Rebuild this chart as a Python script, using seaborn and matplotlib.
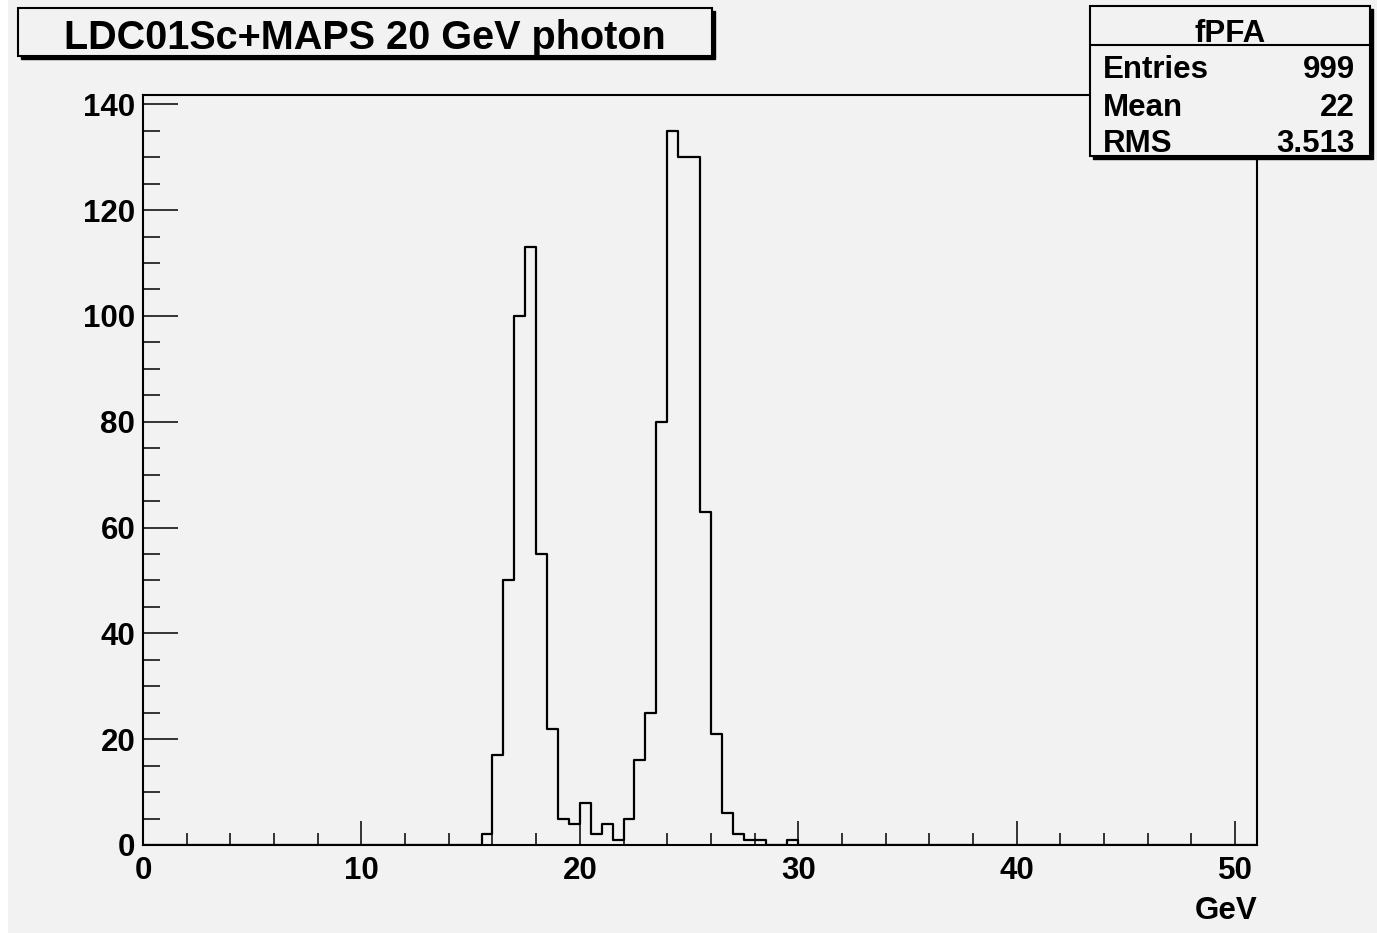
import numpy as np
import pandas as pd
import matplotlib
matplotlib.use("Agg")
import matplotlib.pyplot as plt
from matplotlib.patches import Rectangle
import seaborn as sns

# Histogram definition: 102 bins of 0.5 GeV between 0 and 51 GeV
x_min, x_max, bin_width = 0.0, 51.0, 0.5
# Counts for the occupied bins, starting at the bin whose low edge is 15.5 GeV
first_low_edge = 15.5
counts_occupied = [2, 17, 50, 100, 113, 55, 22, 5, 4, 8, 2, 4, 1, 5, 16,
                   25, 80, 135, 130, 130, 63, 21, 6, 2, 1, 1, 0, 0, 1]

title_text = "LDC01Sc+MAPS 20 GeV photon"
stats_name = "fPFA"
stats_labels = ["Entries", "Mean", "RMS"]
stats_values = ["999", "22", "3.513"]
x_label = "GeV"

n_bins = int(round((x_max - x_min) / bin_width))
edges = np.linspace(x_min, x_max, n_bins + 1)
centers = edges[:-1] + bin_width / 2
counts = np.zeros(n_bins)
start = int(round((first_low_edge - x_min) / bin_width))
counts[start:start + len(counts_occupied)] = counts_occupied
hist_df = pd.DataFrame({"energy": centers, "entries": counts})

W, H = 1377, 933
canvas_grey = "#f2f2f2"

sns.set_theme(style="ticks")
plt.rcParams["font.family"] = ["Liberation Sans", "DejaVu Sans"]
plt.rcParams["font.weight"] = "bold"
plt.rcParams["text.color"] = "black"
plt.rcParams["axes.labelcolor"] = "black"
plt.rcParams["xtick.color"] = "black"
plt.rcParams["ytick.color"] = "black"

fig = plt.figure(figsize=(W / 100, H / 100), dpi=100)
fig.patch.set_facecolor("white")


def fx(px):
    return px / W


def fy(py):
    return 1 - py / H


# canvas fill
fig.add_artist(Rectangle((fx(8), 0), 1 - fx(8), 1, transform=fig.transFigure,
                         facecolor=canvas_grey, edgecolor="none", zorder=-10))

ax_l, ax_r, ax_t, ax_b = 143, 1257, 95, 845
ax = fig.add_axes([fx(ax_l), fy(ax_b), fx(ax_r - ax_l), (ax_b - ax_t) / H])
ax.set_facecolor(canvas_grey)

sns.histplot(data=hist_df, x="energy", weights="entries", bins=n_bins,
             binrange=(x_min, x_max), element="step", fill=False,
             color="black", linewidth=1.6, ax=ax)

y_top = 1.05 * max(counts_occupied)
ax.set_xlim(x_min, x_max)
ax.set_ylim(0, y_top)
ax.set_xticks(np.arange(0, 51, 10))
ax.set_xticks(np.arange(0, 51, 2), minor=True)
ax.set_yticks(np.arange(0, 141, 20))
ax.set_yticks(np.arange(0, 141, 5), minor=True)

for side in ["top", "right", "bottom", "left"]:
    ax.spines[side].set_visible(True)
    ax.spines[side].set_linewidth(1.5)
    ax.spines[side].set_color("black")

ax.tick_params(axis="x", which="major", direction="in", length=17.3, width=1.1,
               pad=8.0, labelsize=22.5, colors="black")
ax.tick_params(axis="x", which="minor", direction="in", length=8.6, width=1.1)
ax.tick_params(axis="y", which="major", direction="in", length=25.2, width=1.1,
               pad=5.5, labelsize=22.5, colors="black")
ax.tick_params(axis="y", which="minor", direction="in", length=12.2, width=1.1)
for lab in ax.get_xticklabels() + ax.get_yticklabels():
    lab.set_fontweight("bold")

ax.set_ylabel("")
ax.set_xlabel(x_label, loc="right", fontsize=22.5, fontweight="bold", labelpad=7)


def boxed(x0, y0, x1, y1, shadow=3):
    fig.add_artist(Rectangle((fx(x0 + shadow), fy(y1 + shadow)), fx(x1 - x0), (y1 - y0) / H,
                             transform=fig.transFigure, facecolor="black",
                             edgecolor="black", linewidth=1.0, zorder=5))
    fig.add_artist(Rectangle((fx(x0), fy(y1)), fx(x1 - x0), (y1 - y0) / H,
                             transform=fig.transFigure, facecolor=canvas_grey,
                             edgecolor="black", linewidth=1.5, zorder=6))


# title pave
boxed(18, 8, 712, 56)
fig.text(fx(365), fy(34), title_text, ha="center", va="center_baseline",
         fontsize=28.5, fontweight="bold", zorder=7)

# statistics pave
sx0, sy0, sx1, sy1 = 1090, 6, 1370, 156
boxed(sx0, sy0, sx1, sy1)
fig.add_artist(plt.Line2D([fx(sx0), fx(sx1)], [fy(45), fy(45)], transform=fig.transFigure,
                          color="black", linewidth=1.5, zorder=7))
fig.text(fx((sx0 + sx1) / 2), fy(31), stats_name, ha="center", va="center_baseline",
         fontsize=22.5, fontweight="bold", zorder=7)
for row_y, lab, val in zip([67, 104, 140], stats_labels, stats_values):
    fig.text(fx(1103), fy(row_y), lab, ha="left", va="center_baseline", fontsize=22.5,
             fontweight="bold", zorder=7)
    fig.text(fx(1355), fy(row_y), val, ha="right", va="center_baseline", fontsize=22.5,
             fontweight="bold", zorder=7)

fig.savefig("out.png", dpi=100, facecolor=fig.get_facecolor())
